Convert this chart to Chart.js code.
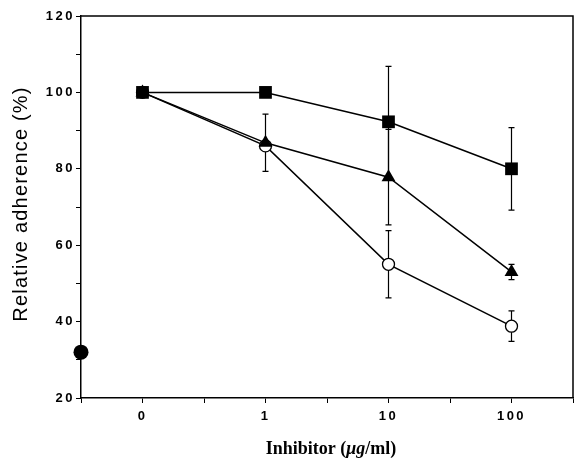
<!DOCTYPE html>
<html>
<head>
<meta charset="utf-8">
<script src="https://cdn.jsdelivr.net/npm/chart.js@4.4.1/dist/chart.umd.min.js"></script>
<style>
  html, body { margin: 0; padding: 0; background: #fff; }
  #wrap { width: 574px; height: 461px; }
</style>
</head>
<body>
<div id="wrap"><canvas id="adherenceChart"></canvas></div>
<script>
// x positions are category slots: 0, 1, 10, 100 ug/ml
const doseLabels = ['0', '1', '10', '100'];
const dosePos = [0, 1, 2, 3];

const squareVals = [100, 100, 92.3, 80];
const squareErr = [0, 0, 14.5, 10.8];

const triangleVals = [100, 86.8, 77.8, 53];
const triangleErr = [0, 7.5, 12.5, 2];

const circleVals = [100, 86, 55, 38.8];
const circleErr = [0, 0, 8.8, 4];

// control (no cells / background), drawn on the y axis
const controlPos = [-0.5];
const controlVals = [32];

const yTicks = [20, 30, 40, 50, 60, 70, 80, 90, 100, 110, 120];
const xTicks = [-0.5, 0, 0.5, 1, 1.5, 2, 2.5, 3, 3.5];

const toPoints = (xs, ys, errs) => xs.map((x, i) => ({ x: x, y: ys[i], err: errs ? errs[i] : 0 }));

const errorBars = {
  id: 'errorBars',
  beforeDatasetsDraw(chart) {
    const ctx = chart.ctx;
    const xs = chart.scales.x, ys = chart.scales.y;
    ctx.save();
    ctx.strokeStyle = '#000';
    ctx.lineWidth = 1.2;
    chart.data.datasets.forEach((ds) => {
      ds.data.forEach((p) => {
        if (!p.err) return;
        const px = xs.getPixelForValue(p.x);
        const top = ys.getPixelForValue(p.y + p.err);
        const bot = ys.getPixelForValue(p.y - p.err);
        ctx.beginPath();
        ctx.moveTo(px, top); ctx.lineTo(px, bot);
        ctx.moveTo(px - 3, top); ctx.lineTo(px + 3, top);
        ctx.moveTo(px - 3, bot); ctx.lineTo(px + 3, bot);
        ctx.stroke();
      });
    });
    ctx.restore();
  }
};

const frame = {
  id: 'frame',
  beforeDraw(chart) {
    chart.ctx.letterSpacing = '2.5px';
  },
  afterDraw(chart) {
    const ctx = chart.ctx;
    const a = chart.chartArea;
    ctx.save();
    ctx.letterSpacing = '0px';
    ctx.strokeStyle = '#000';
    ctx.lineWidth = 1.5;
    ctx.beginPath();
    ctx.moveTo(a.left, a.top); ctx.lineTo(a.right, a.top); ctx.lineTo(a.right, a.bottom);
    ctx.stroke();

    // y axis title
    ctx.save();
    ctx.translate(21, 204);
    ctx.rotate(-Math.PI / 2);
    ctx.fillStyle = '#000';
    ctx.font = '20px "Liberation Sans", Arial, sans-serif';
    ctx.letterSpacing = '1.2px';
    ctx.textAlign = 'center';
    ctx.textBaseline = 'middle';
    ctx.fillText('Relative adherence (%)', 0, 0);
    ctx.restore();

    // x axis title with italic unit
    const parts = [
      { t: 'Inhibitor (', f: 'bold 18px "Liberation Serif", "Times New Roman", serif' },
      { t: '\u03bcg', f: 'italic bold 18px "Liberation Serif", "Times New Roman", serif' },
      { t: '/ml)', f: 'bold 18px "Liberation Serif", "Times New Roman", serif' }
    ];
    let total = 0;
    parts.forEach((p) => { ctx.font = p.f; p.w = ctx.measureText(p.t).width; total += p.w; });
    let x = 331 - total / 2;
    ctx.fillStyle = '#000';
    ctx.textBaseline = 'alphabetic';
    ctx.textAlign = 'left';
    parts.forEach((p) => { ctx.font = p.f; ctx.fillText(p.t, x, 454); x += p.w; });
    ctx.restore();
    ctx.letterSpacing = '0px';
  }
};

new Chart(document.getElementById('adherenceChart'), {
  type: 'line',
  data: {
    datasets: [
      {
        label: 'Squares',
        data: toPoints(dosePos, squareVals, squareErr),
        borderColor: '#000', borderWidth: 1.5,
        pointStyle: 'rect', pointRadius: 9, pointBackgroundColor: '#000', pointBorderColor: '#000', pointBorderWidth: 0
      },
      {
        label: 'Triangles',
        data: toPoints(dosePos, triangleVals, triangleErr),
        borderColor: '#000', borderWidth: 1.5,
        pointStyle: 'triangle', pointRadius: 8, pointBackgroundColor: '#000', pointBorderColor: '#000', pointBorderWidth: 0
      },
      {
        label: 'Open circles',
        data: toPoints(dosePos, circleVals, circleErr),
        borderColor: '#000', borderWidth: 1.5,
        pointStyle: 'circle', pointRadius: 6, pointBackgroundColor: '#fff', pointBorderColor: '#000', pointBorderWidth: 1.3
      },
      {
        label: 'Control',
        data: toPoints(controlPos, controlVals),
        showLine: false, clip: false,
        pointStyle: 'circle', pointRadius: 7.5, pointBackgroundColor: '#000', pointBorderColor: '#000', pointBorderWidth: 0
      }
    ]
  },
  options: {
    responsive: true,
    maintainAspectRatio: false,
    animation: false,
    layout: { autoPadding: false, padding: { top: 16, right: 1, left: 0, bottom: 0 } },
    plugins: { legend: { display: false }, tooltip: { enabled: false } },
    scales: {
      x: {
        type: 'linear',
        min: -0.5,
        max: 3.5,
        afterBuildTicks: (scale) => { scale.ticks = xTicks.map((v) => ({ value: v })); },
        afterFit: (scale) => {
          scale.height = 63;
          scale.paddingLeft = 0;
          scale.paddingRight = 0;
        },
        grid: { drawOnChartArea: false, drawTicks: true, tickLength: 5, tickColor: '#000' },
        border: { display: true, color: '#000', width: 1.5 },
        ticks: {
          color: '#000',
          padding: 6,
          maxRotation: 0,
          autoSkip: false,
          font: { family: '"Liberation Sans", Arial, sans-serif', size: 13, weight: 'bold' },
          callback: (v) => {
            const i = dosePos.indexOf(v);
            return i >= 0 ? doseLabels[i] : '';
          }
        }
      },
      y: {
        min: 20,
        max: 120,
        afterBuildTicks: (scale) => { scale.ticks = yTicks.map((v) => ({ value: v })); },
        afterFit: (scale) => { scale.width = 81; },
        grid: { drawOnChartArea: false, drawTicks: true, tickLength: 5, tickColor: '#000' },
        border: { display: true, color: '#000', width: 1.5 },
        ticks: {
          color: '#000',
          padding: 1,
          autoSkip: false,
          font: { family: '"Liberation Sans", Arial, sans-serif', size: 13, weight: 'bold' },
          callback: (v) => (v % 20 === 0 ? String(v) : '')
        }
      }
    }
  },
  plugins: [errorBars, frame]
});
</script>
</body>
</html>
